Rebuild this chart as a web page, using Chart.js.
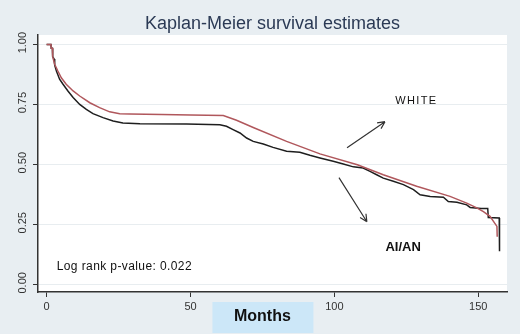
<!DOCTYPE html>
<html lang="en">
<head>
  <meta charset="UTF-8" />
  <title>Kaplan-Meier survival estimates</title>
  <script src="https://cdn.jsdelivr.net/npm/chart.js"></script>
  <style>
    html, body {
      margin: 0;
      padding: 0;
      background: #e8eef2;
    }
    canvas {
      display: block;
    }
  </style>
</head>
<body>
  <canvas id="kmChart" width="520" height="334"></canvas>

  <script>
    // axis ticks
    const xTicks = [0, 50, 100, 150];
    const yTicks = [0, 0.25, 0.5, 0.75, 1];

    // WHITE (red curve) - months / survival
    const whiteMonths = [0, 1.5, 1.6, 2.0, 2.1, 2.8, 3.9, 5.1, 6.8, 9.2, 11.5, 15, 18.4, 21.9, 25.4, 28.9, 40, 50, 61.4, 66, 71.8, 83.4, 95, 108, 117, 128.6, 140.2, 146, 149.5, 151.8, 154.1, 155.3, 156.5, 156.6];
    const whiteSurv = [1.0, 1.0, 0.985, 0.985, 0.95, 0.918, 0.89, 0.862, 0.835, 0.807, 0.786, 0.758, 0.7375, 0.72, 0.7125, 0.711, 0.709, 0.707, 0.705, 0.685, 0.655, 0.597, 0.545, 0.5, 0.458, 0.41, 0.368, 0.34, 0.32, 0.305, 0.285, 0.264, 0.243, 0.2];

    // AI/AN (black curve)
    const aianMonths = [0, 1.5, 1.6, 2.0, 2.1, 2.6, 2.8, 3.4, 4.5, 5.7, 7.4, 9.2, 11.5, 13.8, 16.1, 19.6, 23.1, 26.5, 32.4, 48.6, 60.2, 62.5, 64.8, 67.2, 69.5, 71.8, 75.3, 78.7, 83.4, 88, 91.5, 95, 99.6, 103.1, 106.6, 110, 112.4, 114.7, 117, 120.5, 124, 127.5, 129.8, 133.3, 137.9, 139.6, 142.6, 146, 147.2, 151, 153.3, 153.5, 157.3, 157.4];
    const aianSurv = [1.0, 1.0, 0.985, 0.985, 0.95, 0.94, 0.915, 0.89, 0.856, 0.835, 0.807, 0.78, 0.751, 0.73, 0.7125, 0.696, 0.682, 0.674, 0.67, 0.669, 0.666, 0.66, 0.646, 0.632, 0.611, 0.597, 0.586, 0.572, 0.556, 0.552, 0.539, 0.528, 0.514, 0.503, 0.491, 0.486, 0.472, 0.458, 0.444, 0.431, 0.417, 0.396, 0.375, 0.368, 0.365, 0.347, 0.344, 0.333, 0.322, 0.318, 0.318, 0.28, 0.278, 0.14];

    const toPoints = (xs, ys) => xs.map((x, i) => ({ x: x, y: ys[i] }));
    const FONT = "'Liberation Sans', Arial";

    // white plot area, title
    const plotBg = {
      id: "plotBg",
      beforeDraw(chart) {
        const { ctx, chartArea: a } = chart;
        ctx.save();
        ctx.fillStyle = "#ffffff";
        ctx.fillRect(a.left, a.top, a.right - a.left, a.bottom - a.top);
        ctx.fillStyle = "#2b3a55";
        ctx.font = "18px " + FONT;
        ctx.textAlign = "center";
        ctx.textBaseline = "alphabetic";
        ctx.fillText("Kaplan-Meier survival estimates", (a.left + a.right) / 2, 29);
        ctx.restore();
      }
    };

    const notes = {
      id: "notes",
      afterDraw(chart) {
        const { ctx, scales: { x, y } } = chart;
        ctx.save();

        // rotated y tick labels
        ctx.fillStyle = "#333";
        ctx.font = "11px " + FONT;
        ctx.textAlign = "center";
        ctx.textBaseline = "middle";
        yTicks.forEach(v => {
          ctx.save();
          ctx.translate(23, y.getPixelForValue(v) - 2);
          ctx.rotate(-Math.PI / 2);
          ctx.fillText(v.toFixed(2), 0, 0);
          ctx.restore();
        });

        // curve labels
        ctx.fillStyle = "#111";
        ctx.font = "11px " + FONT;
        ctx.letterSpacing = "1.4px";
        ctx.fillText("WHITE", x.getPixelForValue(128.5), y.getPixelForValue(0.767));
        ctx.letterSpacing = "0px";
        ctx.font = "bold 13px " + FONT;
        ctx.fillText("AI/AN", x.getPixelForValue(123.9), y.getPixelForValue(0.154));
        ctx.font = "12px " + FONT;
        ctx.letterSpacing = "0.4px";
        ctx.textAlign = "left";
        ctx.fillText("Log rank p-value: 0.022", x.getPixelForValue(3.5), y.getPixelForValue(0.075));
        ctx.letterSpacing = "0px";

        // arrows
        const arrow = (m1, s1, m2, s2) => {
          const x1 = x.getPixelForValue(m1), y1 = y.getPixelForValue(s1);
          const x2 = x.getPixelForValue(m2), y2 = y.getPixelForValue(s2);
          const ang = Math.atan2(y2 - y1, x2 - x1);
          ctx.strokeStyle = "#333";
          ctx.lineWidth = 1.2;
          ctx.beginPath();
          ctx.moveTo(x1, y1);
          ctx.lineTo(x2, y2);
          ctx.moveTo(x2, y2);
          ctx.lineTo(x2 - 8 * Math.cos(ang - 0.45), y2 - 8 * Math.sin(ang - 0.45));
          ctx.moveTo(x2, y2);
          ctx.lineTo(x2 - 8 * Math.cos(ang + 0.45), y2 - 8 * Math.sin(ang + 0.45));
          ctx.stroke();
        };
        arrow(104.4, 0.571, 117.6, 0.679);
        arrow(101.6, 0.446, 111.3, 0.2625);

        // x axis title in a light blue box
        const cx = x.getPixelForValue(75);
        ctx.fillStyle = "#cce7f8";
        ctx.fillRect(cx - 50, 302, 101, 31);
        ctx.fillStyle = "#111";
        ctx.textAlign = "center";
        ctx.font = "bold 16px " + FONT;
        ctx.fillText("Months", cx, 317);
        ctx.restore();
      }
    };

    new Chart(document.getElementById("kmChart"), {
      type: "line",
      data: {
        datasets: [
          {
            label: "WHITE",
            data: toPoints(whiteMonths, whiteSurv),
            borderColor: "#b0575c",
            borderWidth: 1.5,
            pointRadius: 0,
            fill: false
          },
          {
            label: "AI/AN",
            data: toPoints(aianMonths, aianSurv),
            borderColor: "#1e1e1e",
            borderWidth: 1.5,
            pointRadius: 0,
            fill: false
          }
        ]
      },
      options: {
        responsive: false,
        animation: false,
        layout: { padding: { top: 35, right: 13 } },
        plugins: {
          legend: { display: false },
          tooltip: { enabled: false },
          title: { display: false }
        },
        scales: {
          x: {
            type: "linear",
            min: -3,
            max: 160,
            afterBuildTicks: s => { s.ticks = xTicks.map(v => ({ value: v })); },
            afterFit: s => { s.height = 42; },
            grid: { drawOnChartArea: false, tickLength: 5, tickColor: "#333" },
            border: { color: "#333", width: 1.5 },
            ticks: {
              color: "#333",
              padding: 3,
              font: { size: 11, family: FONT }
            }
          },
          y: {
            min: -0.03,
            max: 1.04,
            afterBuildTicks: s => { s.ticks = yTicks.map(v => ({ value: v })); },
            afterFit: s => { s.width = 38; },
            grid: { color: "#e8edf0", tickLength: 5, tickColor: "#333" },
            border: { color: "#333", width: 1.5 },
            ticks: { display: false }
          }
        }
      },
      plugins: [plotBg, notes]
    });
  </script>
</body>
</html>
